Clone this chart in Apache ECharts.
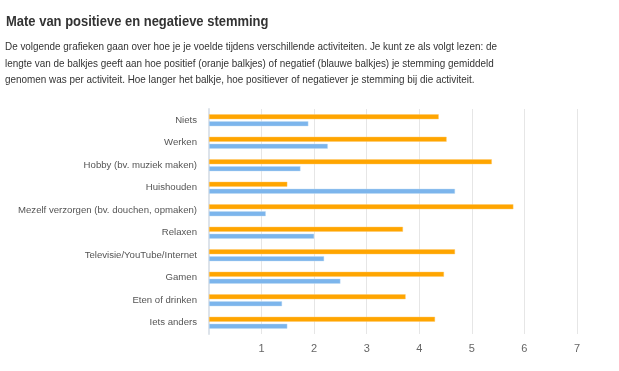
<!DOCTYPE html>
<html><head><meta charset="utf-8">
<script src="https://cdn.jsdelivr.net/npm/echarts@6/dist/echarts.min.js"></script>
<style>html,body{margin:0;padding:0;background:#fff}#c{width:619px;height:371px}</style>
</head><body><div id="c"></div>
<script>
const categories = ["Niets","Werken","Hobby (bv. muziek maken)","Huishouden","Mezelf verzorgen (bv. douchen, opmaken)","Relaxen","Televisie/YouTube/Internet","Gamen","Eten of drinken","Iets anders"];
const positief = [4.37,4.52,5.38,1.49,5.79,3.69,4.68,4.47,3.74,4.30];
const negatief = [1.89,2.26,1.74,4.68,1.08,2.00,2.19,2.50,1.39,1.49];
const xTicks = [1,2,3,4,5,6,7];
const titleText = "Mate van positieve en negatieve stemming";
const descLines = [
 "De volgende grafieken gaan over hoe je je voelde tijdens verschillende activiteiten. Je kunt ze als volgt lezen: de",
 "lengte van de balkjes geeft aan hoe positief (oranje balkjes) of negatief (blauwe balkjes) je stemming gemiddeld",
 "genomen was per activiteit. Hoe langer het balkje, hoe positiever of negatiever je stemming bij die activiteit."
];
const chart = echarts.init(document.getElementById('c'));
const font = '"Liberation Sans", Arial, sans-serif';
chart.setOption({
  animation:false,
  textStyle:{fontFamily:font},
  graphic:[
    {type:'text',x:6,y:14,scaleX:0.865,style:{text:titleText,font:'bold 15px '+font,fill:'#333'}},
    ...descLines.map((t,i)=>({type:'text',x:5,y:41.5+i*16.7,scaleX:0.9,style:{text:t,font:'11px '+font,fill:'#333'}}))
  ],
  grid:{left:209,right:42,top:109,bottom:37,containLabel:false},
  xAxis:{type:'value',min:0,max:7,interval:1,
    axisLine:{show:false},axisTick:{show:false},
    splitLine:{lineStyle:{color:'#e6e6e6',width:1}},
    axisLabel:{color:'#666',fontSize:11,margin:9,formatter:v=>xTicks.includes(v)?String(v):''}},
  yAxis:{type:'category',data:categories,inverse:true,
    axisLine:{show:true,lineStyle:{color:'#dde3ea',width:2}},axisTick:{show:false},
    axisLabel:{color:'#555',fontSize:9.6,margin:12}},
  series:[
    {type:'bar',data:positief,barWidth:5,barGap:'40%',itemStyle:{color:'#FFA500',borderColor:'rgba(255,200,100,0.8)',borderWidth:0.5}},
    {type:'bar',data:negatief,barWidth:5,barGap:'40%',itemStyle:{color:'#7CB5EC',borderColor:'rgba(190,220,245,0.8)',borderWidth:0.5}}
  ]
});
</script></body></html>
